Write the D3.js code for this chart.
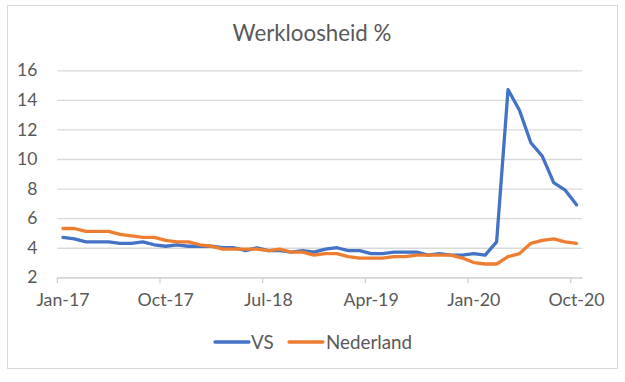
<!DOCTYPE html>
<html><head><meta charset="utf-8">
<script src="https://cdn.jsdelivr.net/npm/d3@7/dist/d3.min.js"></script>
<style>
body{margin:0;background:#fff;}
svg{display:block;font-family:Lato, "Open Sans", sans-serif;}
</style></head>
<body>
<svg id="chart" width="625" height="382"></svg>
<script>
const months = ["Jan-17","Feb-17","Mar-17","Apr-17","May-17","Jun-17","Jul-17","Aug-17","Sep-17","Oct-17","Nov-17","Dec-17",
"Jan-18","Feb-18","Mar-18","Apr-18","May-18","Jun-18","Jul-18","Aug-18","Sep-18","Oct-18","Nov-18","Dec-18",
"Jan-19","Feb-19","Mar-19","Apr-19","May-19","Jun-19","Jul-19","Aug-19","Sep-19","Oct-19","Nov-19","Dec-19",
"Jan-20","Feb-20","Mar-20","Apr-20","May-20","Jun-20","Jul-20","Aug-20","Sep-20","Oct-20"];
const vs = [4.7,4.6,4.4,4.4,4.4,4.3,4.3,4.4,4.2,4.1,4.2,4.1,
4.1,4.1,4.0,4.0,3.8,4.0,3.8,3.8,3.7,3.8,3.7,3.9,
4.0,3.8,3.8,3.6,3.6,3.7,3.7,3.7,3.5,3.6,3.5,3.5,
3.6,3.5,4.4,14.7,13.3,11.1,10.2,8.4,7.9,6.9];
const nederland = [5.3,5.3,5.1,5.1,5.1,4.9,4.8,4.7,4.7,4.5,4.4,4.4,
4.2,4.1,3.9,3.9,3.9,3.9,3.8,3.9,3.7,3.7,3.5,3.6,
3.6,3.4,3.3,3.3,3.3,3.4,3.4,3.5,3.5,3.5,3.5,3.3,
3.0,2.9,2.9,3.4,3.6,4.3,4.5,4.6,4.4,4.3];
const tickLabels = ["Jan-17","Oct-17","Jul-18","Apr-19","Jan-20","Oct-20"];
const yTicks = [2,4,6,8,10,12,14,16];
const seriesNames = ["VS","Nederland"];
const colors = ["#4472C4","#ED7D31"];
const title = "Werkloosheid %";

const svg = d3.select("#chart");
const textColor = "#595959";
const gridColor = "#d9d9d9";

// frame
svg.append("rect").attr("x",7.5).attr("y",5.5).attr("width",610).attr("height",363)
  .attr("fill","#fff").attr("stroke","#d9d9d9").attr("stroke-width",1);

const pLeft = 57.3, pRight = 582.2, pTop = 70.3, pBottom = 277.3;
const x = d3.scaleBand().domain(months).range([pLeft,pRight]).padding(0);
const bw = x.bandwidth();
const y = d3.scaleLinear().domain([2,16]).range([pBottom,pTop]);

// title
svg.append("text").attr("x",312).attr("y",41).attr("text-anchor","middle")
  .attr("fill",textColor).attr("font-size",22.3).text(title);

// gridlines + y labels
const gy = svg.append("g").attr("transform",`translate(${pLeft},0)`)
  .call(d3.axisLeft(y).tickValues(yTicks).tickSize(-(pRight-pLeft)).tickPadding(20).tickFormat(d3.format("d")));
gy.select(".domain").remove();
gy.selectAll(".tick line").attr("stroke",gridColor).attr("stroke-width",1.3);
gy.selectAll(".tick text").attr("fill",textColor).attr("font-size",17.5).attr("font-family","Lato");

// x axis
const gx = svg.append("g").attr("transform",`translate(0,${pBottom})`)
  .call(d3.axisBottom(x).tickValues(tickLabels).tickSize(6).tickPadding(10).tickSizeOuter(0));
gx.select(".domain").attr("stroke","#d0d0d0").attr("stroke-width",1.3);
gx.selectAll(".tick line").attr("stroke","#d0d0d0").attr("stroke-width",1.3)
  .attr("x1",-bw/2).attr("x2",-bw/2);
gx.selectAll(".tick text").attr("fill",textColor).attr("font-size",17.8).attr("font-family","Lato");

// lines
const data = [vs, nederland];
const line = d3.line().x((d,i)=>x(months[i])+bw/2).y(d=>y(d));
data.forEach((s,k)=>{
  svg.append("path").datum(s).attr("d",line).attr("fill","none")
    .attr("stroke",colors[k]).attr("stroke-width",3.3)
    .attr("stroke-linejoin","round").attr("stroke-linecap","round");
});

// legend
const legendItems = [{x1:215,x2:249,tx:251},{x1:289,x2:323,tx:326}];
legendItems.forEach((L,k)=>{
  svg.append("line").attr("x1",L.x1).attr("x2",L.x2).attr("y1",342).attr("y2",342)
    .attr("stroke",colors[k]).attr("stroke-width",3.3).attr("stroke-linecap","round");
  svg.append("text").attr("x",L.tx).attr("y",348.5).attr("fill",textColor)
    .attr("font-size",18.8).text(seriesNames[k]);
});
</script>
</body></html>
